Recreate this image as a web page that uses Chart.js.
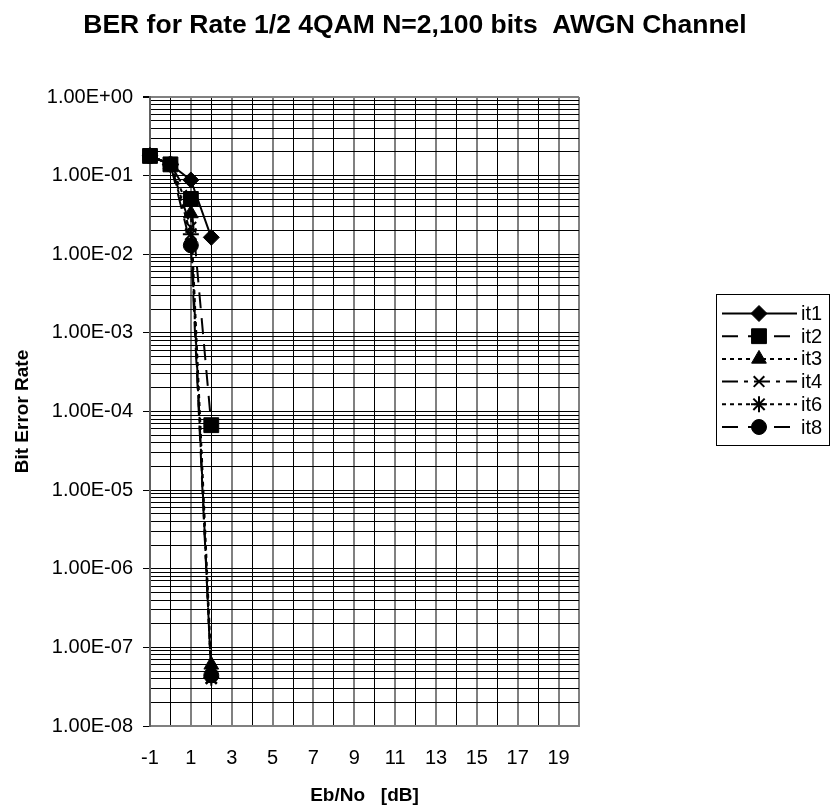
<!DOCTYPE html>
<html>
<head>
<meta charset="utf-8">
<script src="https://cdn.jsdelivr.net/npm/chart.js@4.4.1/dist/chart.umd.min.js"></script>
<style>
  body { margin: 0; background: #fff; }
  canvas { display: block; }
</style>
</head>
<body>
<canvas id="ber" width="831" height="807"></canvas>
<script>
// Eb/No points (dB) and BER per iteration count
var ebno = [-1, 0, 1, 2];
var it1 = [0.178, 0.139, 0.088, 0.0164];
var it2 = [0.178, 0.139, 0.0505, 6.7e-5];
var it3 = [0.178, 0.139, 0.033, 6.0e-8];
var it4 = [0.178, 0.139, 0.022, 4.0e-8];
var it6 = [0.178, 0.139, 0.018, 4.1e-8];
var it8 = [0.178, 0.139, 0.013, 4.4e-8];

var chartTitle = 'BER for Rate 1/2 4QAM N=2,100 bits  AWGN Channel';
var xTitle = 'Eb/No   [dB]';
var yTitle = 'Bit Error Rate';
var xMin = -1, xMax = 20;
var yMinExp = -8, yMaxExp = 0;

var FONT = '"Liberation Sans", Arial, sans-serif';

function pts(ys) {
  return ys.map(function(y, i) { return { x: ebno[i], y: y }; });
}

function isPow10(v) {
  var e = Math.round(Math.log10(v));
  return Math.abs(v / Math.pow(10, e) - 1) < 1e-6;
}

function sciLabel(v) {
  if (!isPow10(v)) return '';
  var e = Math.round(Math.log10(v));
  var a = Math.abs(e);
  return '1.00E' + (e < 0 ? '-' : '+') + (a < 10 ? '0' + a : a);
}

function series(label, ys, style, radius, dash, pbw) {
  return {
    label: label,
    data: pts(ys),
    borderColor: '#000',
    backgroundColor: '#000',
    borderWidth: 2,
    borderDash: dash,
    pointStyle: style,
    pointRadius: radius,
    pointBorderWidth: pbw,
    pointBackgroundColor: '#000',
    pointBorderColor: '#000',
    tension: 0,
    clip: false
  };
}

var decor = {
  id: 'decor',
  afterDraw: function(chart) {
    var ctx = chart.ctx;
    ctx.save();
    ctx.fillStyle = '#000';
    ctx.strokeStyle = '#000';
    ctx.font = 'bold 26.5px ' + FONT;
    ctx.textAlign = 'center';
    ctx.textBaseline = 'alphabetic';
    ctx.fillText(chartTitle, 415, 33);

    // legend box
    ctx.lineWidth = 1;
    ctx.strokeRect(716.5, 294.5, 113, 151);
    chart.data.datasets.forEach(function(ds, i) {
      var y = 313.5 + i * 22.7;
      ctx.lineWidth = ds.borderWidth;
      ctx.setLineDash(ds.borderDash || []);
      ctx.beginPath();
      ctx.moveTo(722, y);
      ctx.lineTo(797, y);
      ctx.stroke();
      ctx.setLineDash([]);
      ctx.lineWidth = ds.pointBorderWidth;
      Chart.helpers.drawPoint(ctx, {
        pointStyle: ds.pointStyle,
        radius: ds.pointRadius,
        rotation: 0,
        borderWidth: ds.pointBorderWidth
      }, 759, y);
      ctx.font = '20px ' + FONT;
      ctx.textAlign = 'left';
      ctx.textBaseline = 'middle';
      ctx.fillText(ds.label, 801, y + 1);
    });
    ctx.restore();
  }
};

new Chart(document.getElementById('ber'), {
  type: 'line',
  data: {
    datasets: [
      series('it1', it1, 'rectRot', 8, [], 1),
      series('it2', it2, 'rect', 10.5, [16, 10], 1),
      series('it3', it3, 'triangle', 8.5, [4, 4], 1),
      series('it4', it4, 'crossRot', 7.5, [16, 6, 4, 6], 2),
      series('it6', it6, 'star', 8, [4, 4], 2),
      series('it8', it8, 'circle', 7.5, [16, 10], 1)
    ]
  },
  options: {
    responsive: false,
    animation: false,
    layout: { padding: { top: 97, right: 252, left: 0, bottom: 0 } },
    plugins: {
      legend: { display: false },
      title: { display: false },
      tooltip: { enabled: false }
    },
    scales: {
      x: {
        type: 'linear',
        min: xMin,
        max: xMax,
        afterFit: function(s) { s.height = 81; },
        ticks: {
          stepSize: 1,
          autoSkip: false,
          maxRotation: 0,
          padding: 20,
          color: '#000',
          font: { size: 20, family: FONT },
          callback: function(v) { return (v % 2 !== 0) ? String(v) : ''; }
        },
        grid: {
          drawTicks: false,
          color: function(c) {
            if (!c.tick) return '#000';
            return (c.tick.value === xMax || c.tick.value % 2 !== 0) ? '#808080' : '#000';
          },
          lineWidth: function(c) {
            if (!c.tick) return 1;
            return (c.tick.value === xMax || c.tick.value % 2 !== 0) ? 2 : 1;
          }
        },
        border: { color: '#808080', width: 2 },
        title: {
          display: true,
          text: xTitle,
          color: '#000',
          font: { size: 19, weight: 'bold', family: FONT },
          padding: { top: 0, bottom: 0 }
        }
      },
      y: {
        type: 'logarithmic',
        min: Math.pow(10, yMinExp),
        max: Math.pow(10, yMaxExp),
        afterFit: function(s) { s.width = 150; },
        afterBuildTicks: function(s) {
          var t = [];
          for (var e = yMinExp; e < yMaxExp; e++) {
            for (var m = 1; m < 10; m++) t.push({ value: m * Math.pow(10, e) });
          }
          t.push({ value: Math.pow(10, yMaxExp) });
          s.ticks = t;
        },
        ticks: {
          autoSkip: false,
          padding: 10,
          color: '#000',
          font: { size: 20, family: FONT },
          callback: function(v) { return sciLabel(v); }
        },
        grid: {
          tickLength: 7,
          tickColor: function(c) { return c.tick && isPow10(c.tick.value) ? '#000' : 'rgba(0,0,0,0)'; },
          color: function(c) { return c.tick && c.tick.value === 1 ? '#808080' : '#000'; },
          lineWidth: function(c) { return c.tick && c.tick.value === 1 ? 2 : 1; }
        },
        border: { color: '#606060', width: 2 },
        title: {
          display: true,
          text: yTitle,
          color: '#000',
          font: { size: 19, weight: 'bold', family: FONT },
          padding: { top: 11, bottom: 0 }
        }
      }
    }
  },
  plugins: [decor]
});
</script>
</body>
</html>
